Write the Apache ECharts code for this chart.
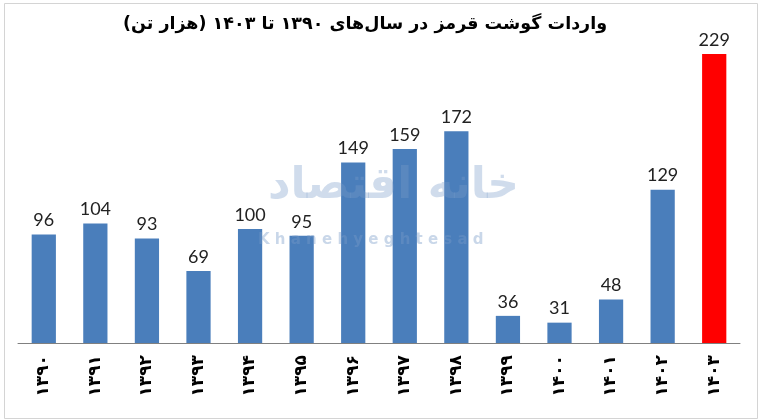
<!DOCTYPE html>
<html><head><meta charset="utf-8">
<script src="https://cdn.jsdelivr.net/npm/echarts@6/dist/echarts.min.js"></script>
<style>html,body{margin:0;padding:0;background:#fff}#c{width:758px;height:419px}</style>
</head><body><div id="c"></div>
<script>
const titleText = '\u200Fواردات گوشت قرمز در سال\u200Cهای ۱۳۹۰ تا ۱۴۰۳ (هزار تن)\u200F';
const categories = ['۱۳۹۰','۱۳۹۱','۱۳۹۲','۱۳۹۳','۱۳۹۴','۱۳۹۵','۱۳۹۶','۱۳۹۷','۱۳۹۸','۱۳۹۹','۱۴۰۰','۱۴۰۱','۱۴۰۲','۱۴۰۳'];
const values = [96,104,93,69,100,95,149,159,172,36,31,48,129,229];
const highlightIndex = 13;

const chart = echarts.init(document.getElementById('c'), null, {renderer:'canvas'});
chart.setOption({
  animation:false,
  backgroundColor:'#fff',
  title:{text:titleText,left:118,top:10,
    textStyle:{fontFamily:'DejaVu Sans',fontWeight:'bold',fontSize:17.5,color:'#000'}},
  grid:{left:18,right:18,top:54,bottom:76,containLabel:false,outerBoundsMode:'none'},
  xAxis:{type:'category',data:categories,
    axisLine:{lineStyle:{color:'#808080',width:1}},
    axisTick:{show:false},
    axisLabel:{rotate:90,interval:0,margin:12,fontFamily:'DejaVu Sans',fontWeight:'bold',fontSize:17,color:'#000'}},
  yAxis:{type:'value',min:16,max:229,show:false,splitLine:{show:false}},
  graphic:[
    {type:'rect',left:2,top:1,shape:{width:753,height:415},style:{fill:'none',stroke:'#d4d4d4',lineWidth:1},z:-1},
    {type:'text',left:268,top:165,z:100,style:{text:'خانه اقتصاد',font:'bold 44px "DejaVu Sans"',fill:'rgba(120,155,200,0.35)'}},
    {type:'text',left:258,top:233,z:100,style:{text:'K h a n e h y e g h t e s a d',font:'bold 15px "DejaVu Sans"',fill:'rgba(120,155,200,0.4)'}}
  ],
  series:[{type:'bar',barWidth:'47%',
    data:values.map((v,i)=>({value:v,itemStyle:{color:i===highlightIndex?'#ff0000':'#4a7ebb'}})),
    label:{show:true,position:'top',distance:5,fontFamily:'Lato',fontSize:18,color:'#222'}
  }]
});
</script></body></html>
